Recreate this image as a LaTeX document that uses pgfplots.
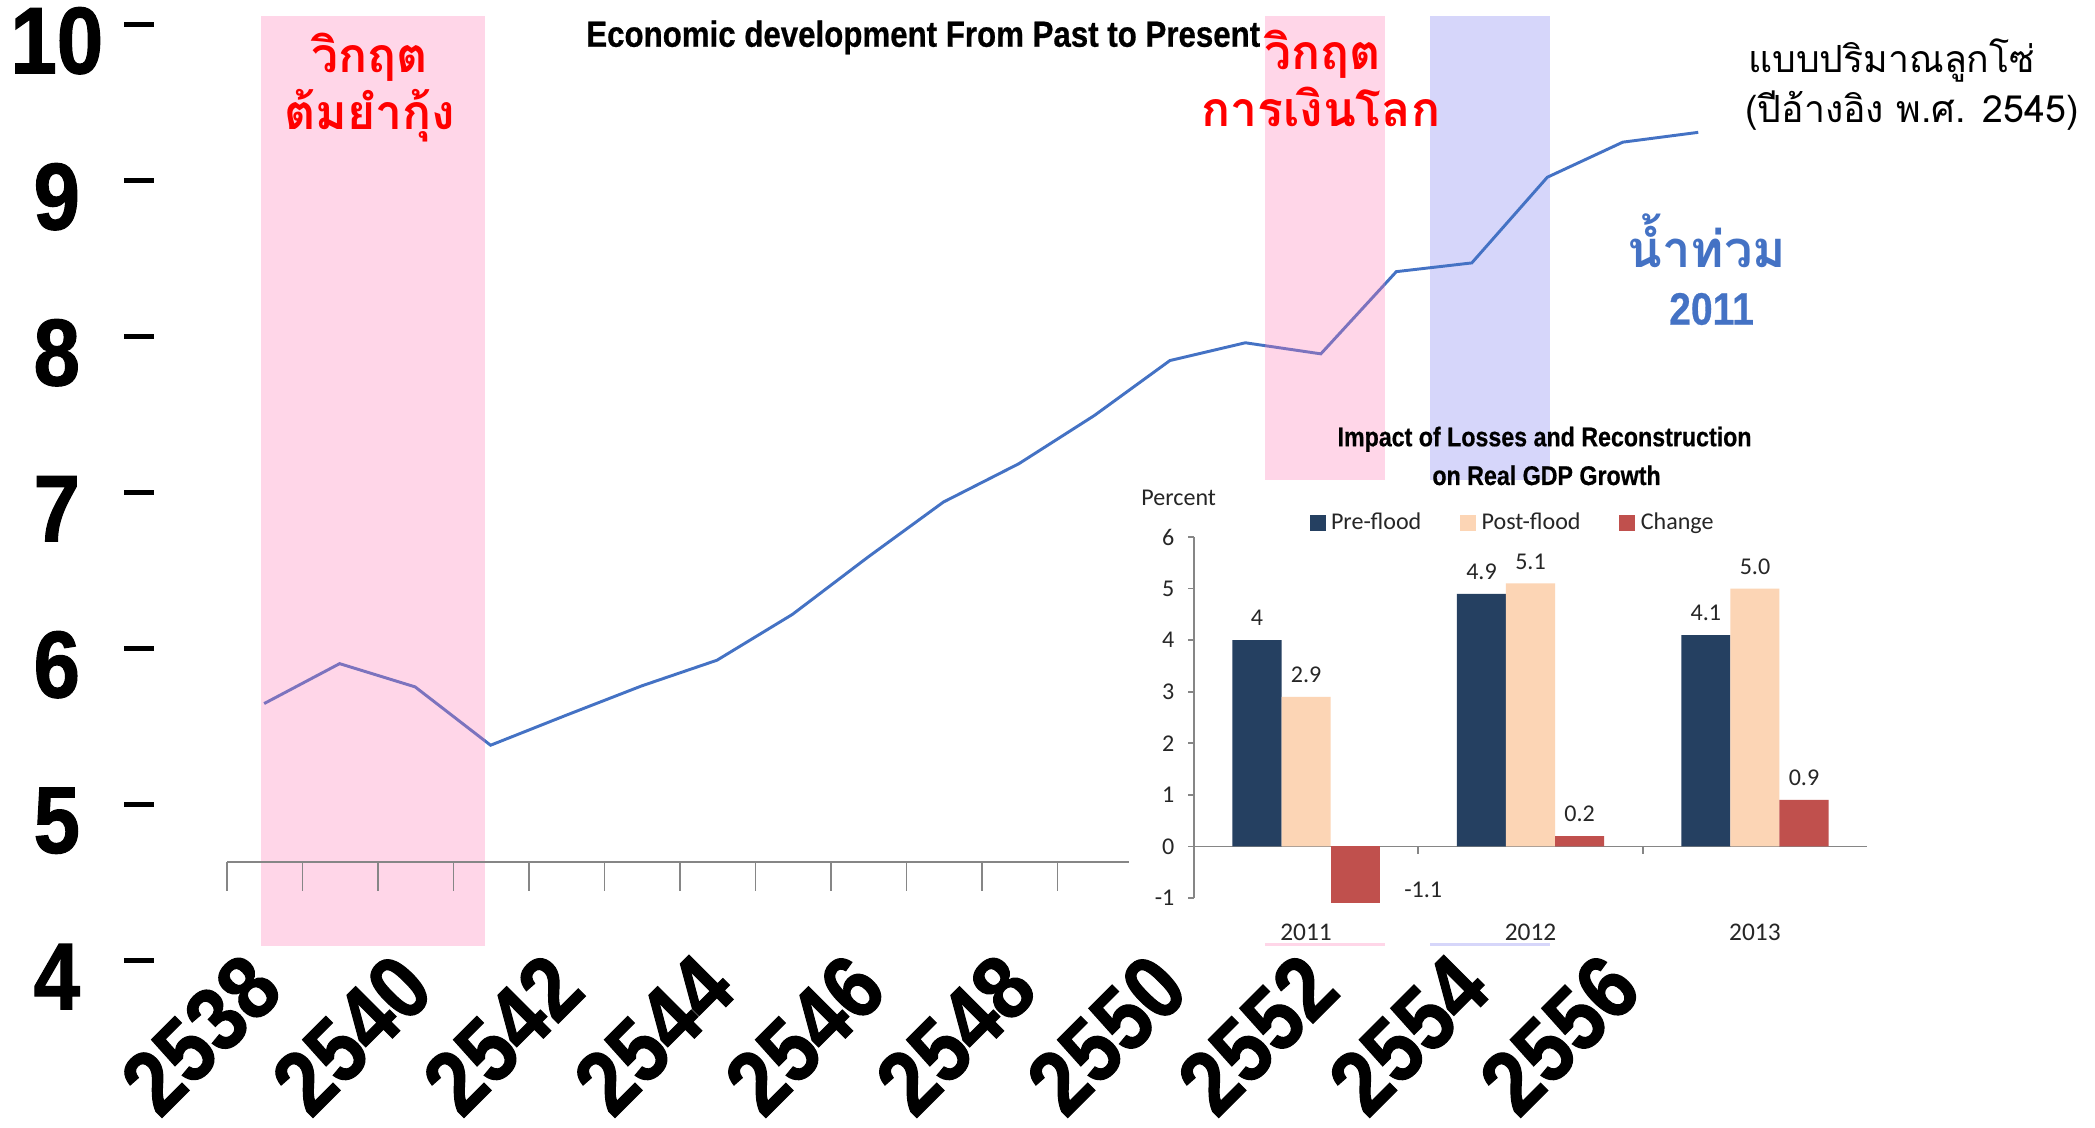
\documentclass[border=0pt]{standalone}
\usepackage{fontspec}
\usepackage{pgfplots}
\pgfplotsset{compat=1.18}
\setmainfont{Liberation Sans}
\newfontfamily\tickfont{Liberation Sans}[FakeStretch=0.88, BoldFeatures={FakeBold=1.2}]
\newfontfamily\condbf{Liberation Sans}[FakeStretch=0.86, BoldFeatures={FakeBold=0.6}]
\newfontfamily\thaifont[Script=Thai]{Loma}
\newfontfamily\insetfont{Carlito}

\definecolor{lineblue}{RGB}{68,114,196}
\definecolor{bandpink}{RGB}{255,118,178}
\definecolor{bandblue}{RGB}{214,214,250}
\definecolor{navy}{RGB}{37,64,97}
\definecolor{peach}{RGB}{252,213,181}
\definecolor{chgred}{RGB}{192,80,77}
\definecolor{axgray}{RGB}{134,134,134}

\pgfplotsset{
  sq legend/.style={legend image code/.code={\fill[##1] (0pt,-3pt) rectangle (6pt,3pt);}},
}

\begin{document}
\begin{tikzpicture}
\useasboundingbox (-57.5pt,-62.5pt) rectangle (726.5pt,359.5pt);

% main series: chain-linked volume, 2538-2557
\begin{axis}[
  name=main, at={(0pt,0pt)}, anchor=south west,
  scale only axis, width=726.5pt, height=350.25pt,
  xmin=2536.536, xmax=2562.257, ymin=4, ymax=10,
  clip=false,
  axis lines*=left, axis line style={draw=none},
  xtick={2538,2540,...,2556}, ytick={4,...,10},
  tick align=outside, major tick length=11pt,
  ytick style={draw=black, line width=1.8pt},
  xtick style={draw=none},
  /pgf/number format/1000 sep={},
  /pgf/number format/assume math mode=true,
  yticklabel style={font=\tickfont\bfseries\fontsize{35.5}{38}\selectfont,
    anchor=center, inner sep=0pt, xshift=-25.25pt, yshift=-6pt},
  xticklabel style={font=\tickfont\bfseries\fontsize{34}{38}\selectfont,
    inner sep=0pt, yshift=7pt, rotate=45, anchor=east},
]
  \fill[bandblue] (axis cs:2553.441,4.094) rectangle (axis cs:2555.035,10.056);
  \addplot[lineblue, line width=1.1pt] coordinates {
    (2538,5.648) (2539,5.904) (2540,5.755) (2541,5.381) (2542,5.573)
    (2543,5.761) (2544,5.926) (2545,6.220) (2546,6.587) (2547,6.940)
    (2548,7.186) (2549,7.495) (2550,7.847) (2551,7.961) (2552,7.890)
    (2553,8.417) (2554,8.473) (2555,9.022) (2556,9.247) (2557,9.310)
  };
  \fill[bandpink, opacity=0.3] (axis cs:2537.952,4.094) rectangle (axis cs:2540.926,10.056);
  \fill[bandpink, opacity=0.3] (axis cs:2551.264,4.094) rectangle (axis cs:2552.849,10.056);
  % old category axis with tick marks between years
  \draw[axgray, line width=0.6pt] (axis cs:2537.51,4.634) -- (axis cs:2549.459,4.634);
  \pgfplotsinvokeforeach{2537.51,2538.51,2539.51,2540.51,2541.51,2542.51,2543.51,2544.51,2545.51,2546.51,2547.51,2548.51}{
    \draw[axgray, line width=0.6pt] (axis cs:#1,4.634) -- (axis cs:#1,4.445);
  }
  % panel of the flood-impact chart
  \fill[white] (axis cs:2549.459,4.111) rectangle (axis cs:2559.549,7.084);
\end{axis}

% flood impact on real GDP growth
\begin{axis}[
  at={(389.25pt,23.5pt)}, anchor=south west,
  scale only axis, width=252pt, height=135pt,
  xmin=0.5, xmax=3.5, ymin=-1, ymax=6,
  clip=false,
  axis x line*=bottom, axis y line*=left,
  x axis line style={draw=none},
  y axis line style={axgray, line width=0.6pt},
  xtick={1,2,3}, xticklabels={2011,2012,2013},
  xtick style={draw=none},
  ytick={-1,0,...,6},
  ytick style={axgray, line width=0.6pt},
  tick align=outside, major tick length=2.1pt,
  /pgf/number format/assume math mode=true,
  yticklabel style={font=\insetfont\fontsize{9}{10}\selectfont, text=black!85,
    anchor=east, inner sep=0pt, xshift=-5pt},
  xticklabel style={font=\insetfont\fontsize{9.5}{10}\selectfont, text=black!85,
    anchor=north, inner sep=0pt, yshift=-7.5pt},
  every node near coord/.append style={font=\insetfont\fontsize{9}{10}\selectfont,
    text=black!85, inner sep=0pt, anchor=center, yshift=8.25pt},
  legend columns=3,
  legend style={at={(0.172,1.039)}, anchor=west, draw=none, fill=none,
    inner sep=0pt, outer sep=0pt,
    font=\insetfont\fontsize{9}{10}\selectfont, text=black!85,
    /tikz/every odd column/.append style={column sep=0pt},
    /tikz/every even column/.append style={column sep=12.55pt}},
]
  \draw[axgray, line width=0.6pt] (axis cs:0.5,0) -- (axis cs:3.5,0);
  \draw[axgray, line width=0.6pt] (axis cs:1.5,0) -- (axis cs:1.5,-0.15);
  \draw[axgray, line width=0.6pt] (axis cs:2.5,0) -- (axis cs:2.5,-0.15);
  \addplot[ybar, sq legend, bar width=18.35pt, bar shift=-18.35pt, fill=navy, draw=none,
    nodes near coords, point meta=explicit symbolic,
    every node near coord/.append style={xshift=-18.35pt}]
    coordinates {(1,4) [4] (2,4.9) [4.9] (3,4.1) [4.1]};
  \addlegendentry{Pre-flood}
  \addplot[ybar, sq legend, bar width=18.35pt, bar shift=0pt, fill=peach, draw=none,
    nodes near coords, point meta=explicit symbolic]
    coordinates {(1,2.9) [2.9] (2,5.1) [5.1] (3,5.0) [5.0]};
  \addlegendentry{Post-flood}
  \addplot[ybar, sq legend, bar width=18.35pt, bar shift=18.35pt, fill=chgred, draw=none,
    nodes near coords, point meta=explicit symbolic,
    every node near coord/.append style={xshift=18.35pt}]
    coordinates {(2,0.2) [0.2] (3,0.9) [0.9]};
  \addlegendentry{Change}
  \addplot[ybar, bar width=18.35pt, bar shift=18.35pt, fill=chgred, draw=none,
    forget plot, nodes near coords, point meta=explicit symbolic,
    every node near coord/.append style={xshift=43.85pt, yshift=-3.4pt}]
    coordinates {(1,-1.1) [-1.1]};
\end{axis}

% titles and annotations
\node[anchor=base, font=\condbf\bfseries\fontsize{13.6}{16}\selectfont]
  at (288pt,342pt) {Economic development From Past to Present};
\node[anchor=base, text=red, font=\thaifont\bfseries\fontsize{18}{22}\selectfont]
  at (80.75pt,332.5pt) {วิกฤต};
\node[anchor=base, text=red, font=\thaifont\bfseries\fontsize{18}{22}\selectfont]
  at (81pt,311pt) {ต้มยำกุ้ง};
\node[anchor=base, text=red, font=\thaifont\bfseries\fontsize{18}{22}\selectfont]
  at (437.5pt,333.5pt) {วิกฤต};
\node[anchor=base, text=red, font=\thaifont\bfseries\fontsize{18}{22}\selectfont]
  at (436.75pt,312pt) {การเงินโลก};
\node[anchor=base, text=lineblue, font=\thaifont\bfseries\fontsize{19}{22}\selectfont]
  at (581.25pt,259.5pt) {น้ำท่วม};
\node[anchor=base, text=lineblue, font=\condbf\bfseries\fontsize{17}{20}\selectfont]
  at (583pt,238pt) {2011};
\node[anchor=base west, inner sep=0pt, font=\thaifont\fontsize{14}{17}\selectfont]
  at (596.5pt,332.5pt) {แบบปริมาณลูกโซ่};
\node[anchor=base west, inner sep=0pt, font=\thaifont\fontsize{14}{17}\selectfont]
  at (595.5pt,313.5pt) {(ปีอ้างอิง พ.ศ. 2545)};
\node[anchor=base, font=\condbf\bfseries\fontsize{10.1}{12}\selectfont]
  at (520.5pt,192.5pt) {Impact of Losses and Reconstruction};
\node[anchor=base, font=\condbf\bfseries\fontsize{10.1}{12}\selectfont]
  at (521.25pt,178pt) {on Real GDP Growth};
\node[anchor=base west, inner sep=0pt, text=black!85, font=\insetfont\fontsize{9}{10}\selectfont]
  at (369.45pt,170.5pt) {Percent};
\end{tikzpicture}
\end{document}
